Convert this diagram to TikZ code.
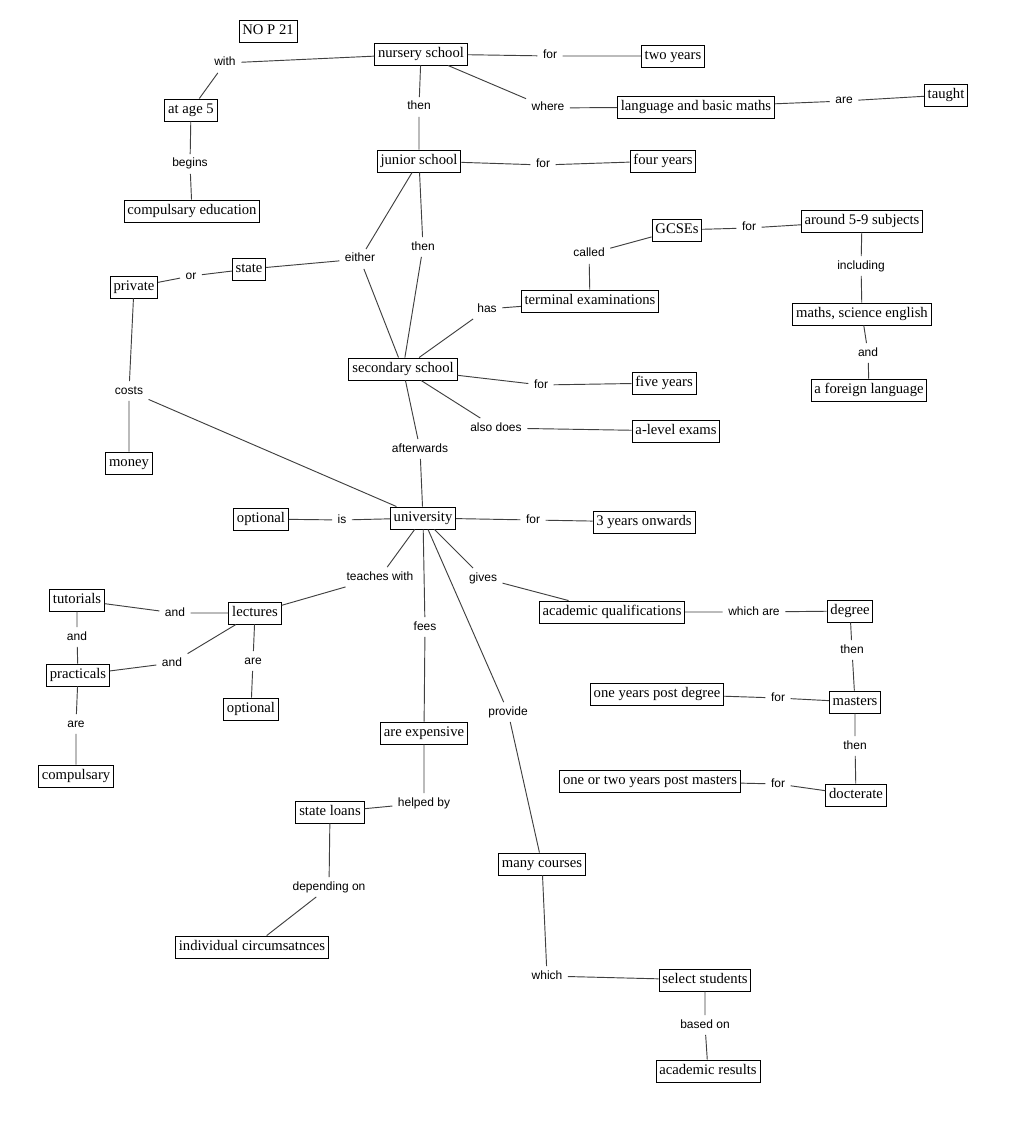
\documentclass[tikz,border=0pt]{standalone}
\usepackage{fontspec}
\setmainfont{Liberation Serif}
\newfontfamily\linkfont{Liberation Sans}
\begin{document}
\begin{tikzpicture}[x=0.75pt,y=-0.75pt,
  concept/.style={draw, line width=0.7pt, font=\fontsize{11}{12}\selectfont, inner xsep=2.5pt, inner ysep=3pt, text height=8pt, text depth=2.5pt},
  link/.style={font=\linkfont\fontsize{9}{10}\selectfont, inner xsep=4pt, inner ysep=3pt, text height=6.5pt, text depth=2pt},
  conn/.style={draw=black!75, line width=0.7pt}]
\fill[white] (0,0) rectangle (1010,1123);
\useasboundingbox (0,0) rectangle (1010,1123);

% concepts
\node[concept] (nop) at (268,31) {NO P 21};
\node[concept] (nursery) at (421,54) {nursery school};
\node[concept] (twoyears) at (673,56) {two years};
\node[concept] (taught) at (946,95) {taught};
\node[concept] (lang) at (696,107) {language and basic maths};
\node[concept] (age5) at (191,110) {at age 5};
\node[concept] (junior) at (419,161) {junior school};
\node[concept] (fouryears) at (663,161) {four years};
\node[concept] (compedu) at (192,211) {compulsary education};
\node[concept] (gcses) at (677,230) {GCSEs};
\node[concept] (around) at (862,221) {around 5-9 subjects};
\node[concept] (state) at (249,269) {state};
\node[concept] (private) at (134,287) {private};
\node[concept] (terminal) at (590,301) {terminal examinations};
\node[concept] (mathssci) at (862,314) {maths, science english};
\node[concept] (secondary) at (403,369) {secondary school};
\node[concept] (fiveyears) at (664,383) {five years};
\node[concept] (alevel) at (676,431) {a-level exams};
\node[concept] (foreign) at (869,390) {a foreign language};
\node[concept] (money) at (129,463) {money};
\node[concept] (uni) at (423,518) {university};
\node[concept] (optional1) at (261,519) {optional};
\node[concept] (threeyears) at (644,522) {3 years onwards};
\node[concept] (tutorials) at (77,600) {tutorials};
\node[concept] (lectures) at (255,613) {lectures};
\node[concept] (acadq) at (612,612) {academic qualifications};
\node[concept] (degree) at (850,611) {degree};
\node[concept] (practicals) at (78,675) {practicals};
\node[concept] (optional2) at (251,709) {optional};
\node[concept] (oneyear) at (657,694) {one years post degree};
\node[concept] (masters) at (855,702) {masters};
\node[concept] (expensive) at (424,733) {are expensive};
\node[concept] (compulsary) at (76,776) {compulsary};
\node[concept] (onetwo) at (650,781) {one or two years post masters};
\node[concept] (docterate) at (856,795) {docterate};
\node[concept] (loans) at (330,812) {state loans};
\node[concept] (courses) at (542,864) {many courses};
\node[concept] (indiv) at (252,947) {individual circumsatnces};
\node[concept] (select) at (705,980) {select students};
\node[concept] (results) at (708,1071) {academic results};

% linking phrases
\node[link] (lWith) at (225,63) {with};
\node[link] (lFor1) at (550,56) {for};
\node[link] (lWhere) at (548,108) {where};
\node[link] (lThen1) at (419,107) {then};
\node[link] (lAre1) at (844,101) {are};
\node[link] (lBegins) at (190,164) {begins};
\node[link] (lFor2) at (543,165) {for};
\node[link] (lEither) at (360,259) {either};
\node[link] (lThen2) at (423,247) {then};
\node[link] (lOr) at (191,276) {or};
\node[link] (lCalled) at (589,254) {called};
\node[link] (lFor3) at (749,228) {for};
\node[link] (lIncluding) at (861,266) {including};
\node[link] (lHas) at (487,309) {has};
\node[link] (lAnd1) at (868,353) {and};
\node[link] (lFor4) at (541,385) {for};
\node[link] (lAlso) at (496,428) {also does};
\node[link] (lCosts) at (129,391) {costs};
\node[link] (lAfter) at (420,449) {afterwards};
\node[link] (lIs) at (342,520) {is};
\node[link] (lFor5) at (533,520) {for};
\node[link] (lTeaches) at (380,577) {teaches with};
\node[link] (lGives) at (483,578) {gives};
\node[link] (lAnd2) at (175,613) {and};
\node[link] (lAnd3) at (77,637) {and};
\node[link] (lFees) at (425,627) {fees};
\node[link] (lAnd4) at (172,663) {and};
\node[link] (lAre2) at (253,661) {are};
\node[link] (lWhichAre) at (754,612) {which are};
\node[link] (lThen3) at (852,650) {then};
\node[link] (lProvide) at (508,712) {provide};
\node[link] (lAre3) at (76,724) {are};
\node[link] (lThen4) at (855,746) {then};
\node[link] (lFor6) at (778,698) {for};
\node[link] (lFor7) at (778,784) {for};
\node[link] (lHelped) at (424,803) {helped by};
\node[link] (lDepending) at (329,887) {depending on};
\node[link] (lWhich) at (547,976) {which};
\node[link] (lBased) at (705,1025) {based on};

% connectors
\draw[conn] (nursery) -- (lWith) -- (age5);
\draw[conn] (nursery) -- (lFor1) -- (twoyears);
\draw[conn] (nursery) -- (lWhere) -- (lang);
\draw[conn] (lang) -- (lAre1) -- (taught);
\draw[conn] (nursery) -- (lThen1) -- (junior);
\draw[conn] (age5) -- (lBegins) -- (compedu);
\draw[conn] (junior) -- (lFor2) -- (fouryears);
\draw[conn] (junior) -- (lEither);
\draw[conn] (lEither) -- (state);
\draw[conn] (lEither) -- (secondary);
\draw[conn] (junior) -- (lThen2) -- (secondary);
\draw[conn] (state) -- (lOr) -- (private);
\draw[conn] (private) -- (lCosts) -- (money);
\draw[conn] (lCosts) -- (uni);
\draw[conn] (secondary) -- (lHas) -- (terminal);
\draw[conn] (terminal) -- (lCalled) -- (gcses);
\draw[conn] (gcses) -- (lFor3) -- (around);
\draw[conn] (around) -- (lIncluding) -- (mathssci);
\draw[conn] (mathssci) -- (lAnd1) -- (foreign);
\draw[conn] (secondary) -- (lFor4) -- (fiveyears);
\draw[conn] (secondary) -- (lAlso) -- (alevel);
\draw[conn] (secondary) -- (lAfter) -- (uni);
\draw[conn] (optional1) -- (lIs) -- (uni);
\draw[conn] (uni) -- (lFor5) -- (threeyears);
\draw[conn] (uni) -- (lTeaches) -- (lectures);
\draw[conn] (uni) -- (lGives) -- (acadq);
\draw[conn] (uni) -- (lFees) -- (expensive);
\draw[conn] (uni) -- (lProvide) -- (courses);
\draw[conn] (tutorials) -- (lAnd2) -- (lectures);
\draw[conn] (tutorials) -- (lAnd3) -- (practicals);
\draw[conn] (lectures) -- (lAnd4) -- (practicals);
\draw[conn] (lectures) -- (lAre2) -- (optional2);
\draw[conn] (practicals) -- (lAre3) -- (compulsary);
\draw[conn] (acadq) -- (lWhichAre) -- (degree);
\draw[conn] (degree) -- (lThen3) -- (masters);
\draw[conn] (masters) -- (lThen4) -- (docterate);
\draw[conn] (oneyear) -- (lFor6) -- (masters);
\draw[conn] (onetwo) -- (lFor7) -- (docterate);
\draw[conn] (expensive) -- (lHelped) -- (loans);
\draw[conn] (loans) -- (lDepending) -- (indiv);
\draw[conn] (courses) -- (lWhich) -- (select);
\draw[conn] (select) -- (lBased) -- (results);
\end{tikzpicture}
\end{document}
